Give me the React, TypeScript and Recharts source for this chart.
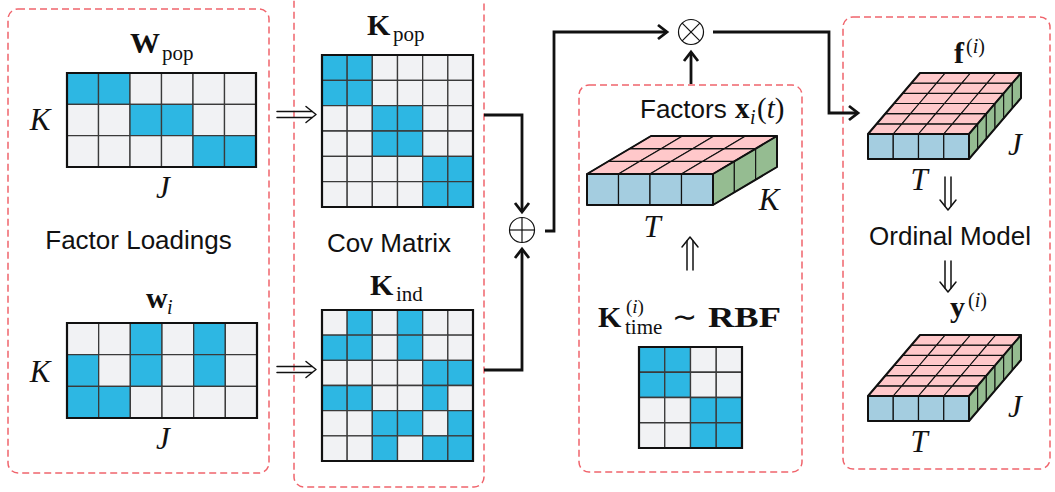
import React from "react";
import { ComposedChart, XAxis, YAxis, Scatter, ReferenceArea } from "recharts";

const CHART_W = 1055;
const CHART_H = 492;

// ---------------- data ----------------
const wPopMatrix = ["110000", "001100", "000011"];
const wIndMatrix = ["001010", "101010", "110000"];
const kPopMatrix = ["110000", "110000", "001100", "001100", "000011", "000011"];
const kIndMatrix = ["010100", "110100", "000011", "110010", "001101", "001011"];
const kTimeMatrix = ["1100", "1100", "0011", "0011"];

const factorsSlab = { t: 4, depth: 3 }; // T columns x K rows
const fSlab = { t: 4, depth: 6 }; // T columns x J rows
const ySlab = { t: 4, depth: 6 };

const panelTitles = ["Factor Loadings", "Cov Matrix", "Ordinal Model", "Factors"];
const dimLabels = ["K", "J", "T"];

// ---------------- styles ----------------
const SANS = "'Liberation Sans', Arial, Helvetica, sans-serif";
const SERIF = "'Liberation Serif', 'Times New Roman', serif";
const BLUE = "#2db7e3";
const GRAY = "#f1f2f4";
const FRONT = "#a4cde0";
const TOP = "#ffc8ca";
const SIDE = "#95bc91";
const DASH = "#f0646c";
const INK = "#111111";

// ---------------- layout ----------------
const BOXES = [
  { x0: 8, y0: 9, x1: 269, y1: 473 },
  { x0: 294, y0: -30, x1: 484, y1: 487 },
  { x0: 579, y0: 85, x1: 802, y1: 472 },
  { x0: 843, y0: 17, x1: 1050, y1: 469 },
];

const MATS = [
  { rows: wPopMatrix, x0: 67, y0: 73, x1: 256, y1: 167 },
  { rows: wIndMatrix, x0: 67, y0: 323, x1: 257, y1: 418 },
  { rows: kPopMatrix, x0: 322, y0: 55, x1: 473, y1: 207 },
  { rows: kIndMatrix, x0: 322, y0: 310, x1: 473, y1: 461 },
  { rows: kTimeMatrix, x0: 639, y0: 347, x1: 742, y1: 448 },
];

const SLABS = [
  { spec: factorsSlab, x0: 587, y0: 174, x1: 713, y1: 205, dx: 64, dy: -38 },
  { spec: fSlab, x0: 868, y0: 134, x1: 969, y1: 159, dx: 52, dy: -61 },
  { spec: ySlab, x0: 868, y0: 396, x1: 969, y1: 421, dx: 52, dy: -61 },
];

const WIRES: number[][][] = [
  [[484, 115], [522, 115], [522, 212]],
  [[484, 370], [522, 370], [522, 249]],
  [[545, 231], [554, 231], [554, 32], [667, 32]],
  [[691, 84], [691, 52]],
  [[713, 32], [829, 32], [829, 113], [858, 113]],
];

const DOUBLE_ARROWS = [
  { tip: [316, 114.5], dir: [1, 0], len: 39 },
  { tip: [316, 369.5], dir: [1, 0], len: 39 },
  { tip: [690, 237], dir: [0, -1], len: 33 },
  { tip: [948, 210], dir: [0, 1], len: 33 },
  { tip: [948, 292], dir: [0, 1], len: 31 },
];

const OPS = [
  { x: 522, y: 230, kind: "plus" },
  { x: 691, y: 32, kind: "times" },
];

type TextItem = {
  x: number;
  y: number;
  text?: string;
  spans?: { t: string; italic?: boolean }[];
  font?: "sans" | "serif";
  size: number;
  bold?: boolean;
  italic?: boolean;
  anchor?: "start" | "middle" | "end";
  len?: number;
};

const TEXTS: TextItem[] = [
  { x: 138.5, y: 249, text: panelTitles[0], font: "sans", size: 26, anchor: "middle" },
  { x: 389, y: 252, text: panelTitles[1], font: "sans", size: 26, anchor: "middle" },
  { x: 950, y: 245, text: panelTitles[2], font: "sans", size: 26, anchor: "middle" },
  { x: 640, y: 118, text: panelTitles[3], font: "sans", size: 26 },
  // W_pop
  { x: 130, y: 53, text: "W", bold: true, size: 30 },
  { x: 162, y: 60, text: "pop", size: 21 },
  // w_i
  { x: 146, y: 308, text: "w", bold: true, size: 30 },
  { x: 167, y: 314, text: "i", italic: true, size: 20 },
  // K_pop
  { x: 367, y: 35, text: "K", bold: true, size: 30 },
  { x: 393, y: 41, text: "pop", size: 21 },
  // K_ind
  { x: 370, y: 295, text: "K", bold: true, size: 30 },
  { x: 396, y: 301, text: "ind", size: 21 },
  // x_i(t)
  { x: 735, y: 118, text: "x", bold: true, size: 29 },
  { x: 750, y: 124, text: "i", italic: true, size: 20 },
  { x: 757, y: 118, spans: [{ t: "(" }, { t: "t", italic: true }, { t: ")" }], size: 29 },
  // K_time^(i) ~ RBF
  { x: 598, y: 327, text: "K", bold: true, size: 30 },
  { x: 625, y: 334, text: "time", size: 21 },
  { x: 626, y: 313, spans: [{ t: "(" }, { t: "i", italic: true }, { t: ")" }], size: 19 },
  { x: 672, y: 327, text: "\u223C", size: 30 },
  { x: 708, y: 327, text: "RBF", bold: true, size: 30, len: 73 },
  // f^(i)
  { x: 954, y: 63, text: "f", bold: true, size: 30 },
  { x: 966, y: 53, spans: [{ t: "(" }, { t: "i", italic: true }, { t: ")" }], size: 20 },
  // y^(i)
  { x: 950, y: 317, text: "y", bold: true, size: 30 },
  { x: 968, y: 307, spans: [{ t: "(" }, { t: "i", italic: true }, { t: ")" }], size: 20 },
  // dimension labels
  { x: 40, y: 130, text: dimLabels[0], italic: true, size: 31, anchor: "middle" },
  { x: 163, y: 198, text: dimLabels[1], italic: true, size: 31, anchor: "middle" },
  { x: 40, y: 382, text: dimLabels[0], italic: true, size: 31, anchor: "middle" },
  { x: 163, y: 449, text: dimLabels[1], italic: true, size: 31, anchor: "middle" },
  { x: 652, y: 237, text: dimLabels[2], italic: true, size: 31, anchor: "middle" },
  { x: 769, y: 210, text: dimLabels[0], italic: true, size: 31, anchor: "middle" },
  { x: 1015, y: 155, text: dimLabels[1], italic: true, size: 31, anchor: "middle" },
  { x: 919, y: 190, text: dimLabels[2], italic: true, size: 31, anchor: "middle" },
  { x: 1015, y: 417, text: dimLabels[1], italic: true, size: 31, anchor: "middle" },
  { x: 919, y: 452, text: dimLabels[2], italic: true, size: 31, anchor: "middle" },
];

// ---------------- geometry helpers ----------------
type P = { x: number; y: number };

function matrixCells(m: { rows: string[]; x0: number; y0: number; x1: number; y1: number }) {
  const nr = m.rows.length;
  const nc = m.rows[0].length;
  const cw = (m.x1 - m.x0) / nc;
  const ch = (m.y1 - m.y0) / nr;
  const out: { x1: number; x2: number; y1: number; y2: number; on: boolean }[] = [];
  m.rows.forEach((r, i) =>
    r.split("").forEach((v, j) =>
      out.push({
        x1: m.x0 + j * cw,
        x2: m.x0 + (j + 1) * cw,
        y1: m.y0 + i * ch,
        y2: m.y0 + (i + 1) * ch,
        on: v === "1",
      })
    )
  );
  return out;
}

function slabFrontCells(s: (typeof SLABS)[number]) {
  const cw = (s.x1 - s.x0) / s.spec.t;
  return Array.from({ length: s.spec.t }, (_, j) => ({
    x1: s.x0 + j * cw,
    x2: s.x0 + (j + 1) * cw,
    y1: s.y0,
    y2: s.y1,
  }));
}

function slabTopQuads(s: (typeof SLABS)[number]): P[] {
  const cw = (s.x1 - s.x0) / s.spec.t;
  const sx = s.dx / s.spec.depth;
  const sy = s.dy / s.spec.depth;
  const out: P[] = [];
  for (let k = 0; k < s.spec.depth; k++) {
    for (let j = 0; j < s.spec.t; j++) {
      const ax = s.x0 + j * cw + k * sx;
      const ay = s.y0 + k * sy;
      out.push(
        { x: ax, y: ay },
        { x: ax + cw, y: ay },
        { x: ax + cw + sx, y: ay + sy },
        { x: ax + sx, y: ay + sy }
      );
    }
  }
  return out;
}

function slabSideQuads(s: (typeof SLABS)[number]): P[] {
  const sx = s.dx / s.spec.depth;
  const sy = s.dy / s.spec.depth;
  const h = s.y1 - s.y0;
  const out: P[] = [];
  for (let k = 0; k < s.spec.depth; k++) {
    const ax = s.x1 + k * sx;
    const ay = s.y0 + k * sy;
    out.push(
      { x: ax, y: ay },
      { x: ax + sx, y: ay + sy },
      { x: ax + sx, y: ay + sy + h },
      { x: ax, y: ay + h }
    );
  }
  return out;
}

function slabOutline(s: (typeof SLABS)[number]): P[] {
  return [
    { x: s.x0, y: s.y1 },
    { x: s.x0, y: s.y0 },
    { x: s.x0 + s.dx, y: s.y0 + s.dy },
    { x: s.x1 + s.dx, y: s.y0 + s.dy },
    { x: s.x1 + s.dx, y: s.y1 + s.dy },
    { x: s.x1, y: s.y1 },
    { x: s.x0, y: s.y1 },
    { x: s.x0, y: s.y0 },
    { x: s.x1, y: s.y0 },
    { x: s.x1 + s.dx, y: s.y0 + s.dy },
    { x: s.x1, y: s.y0 },
    { x: s.x1, y: s.y1 },
  ];
}

function arrowHead(w: number[][]): P[] {
  const a = w[w.length - 2];
  const b = w[w.length - 1];
  const len = Math.hypot(b[0] - a[0], b[1] - a[1]);
  const ux = (b[0] - a[0]) / len;
  const uy = (b[1] - a[1]) / len;
  const px = -uy;
  const py = ux;
  const L = 9;
  const Wd = 7;
  return [
    { x: b[0] - L * ux + Wd * px, y: b[1] - L * uy + Wd * py },
    { x: b[0], y: b[1] },
    { x: b[0] - L * ux - Wd * px, y: b[1] - L * uy - Wd * py },
  ];
}

function doubleArrowParts(a: (typeof DOUBLE_ARROWS)[number]): P[][] {
  const [tx, ty] = a.tip;
  const [ux, uy] = a.dir;
  const px = -uy;
  const py = ux;
  const bx = tx - a.len * ux;
  const by = ty - a.len * uy;
  const g = 3;
  const stop = 4;
  const L = 10;
  const Wd = 8;
  return [
    [
      { x: bx + g * px, y: by + g * py },
      { x: tx - stop * ux + g * px, y: ty - stop * uy + g * py },
    ],
    [
      { x: bx - g * px, y: by - g * py },
      { x: tx - stop * ux - g * px, y: ty - stop * uy - g * py },
    ],
    [
      { x: tx - L * ux + Wd * px, y: ty - L * uy + Wd * py },
      { x: tx, y: ty },
      { x: tx - L * ux - Wd * px, y: ty - L * uy - Wd * py },
    ],
  ];
}

// ---------------- renderers ----------------
const Hidden = () => <g />;

const quadRenderer = (fill: string, stroke: string, sw: number) => (lp: any) => {
  const pts: P[] = (lp && lp.points) || [];
  const polys: React.ReactElement[] = [];
  for (let i = 0; i + 3 < pts.length; i += 4) {
    polys.push(
      <polygon
        key={i}
        points={pts
          .slice(i, i + 4)
          .map((p) => `${p.x},${p.y}`)
          .join(" ")}
        fill={fill}
        stroke={stroke}
        strokeWidth={sw}
        strokeLinejoin="round"
      />
    );
  }
  return <g>{polys}</g>;
};

const boxRenderer = (lp: any) => {
  const pts: P[] = (lp && lp.points) || [];
  const rects: React.ReactElement[] = [];
  for (let i = 0; i + 1 < pts.length; i += 2) {
    const a = pts[i];
    const b = pts[i + 1];
    rects.push(
      <rect
        key={i}
        x={Math.min(a.x, b.x)}
        y={Math.min(a.y, b.y)}
        width={Math.abs(b.x - a.x)}
        height={Math.abs(b.y - a.y)}
        rx={10}
        ry={10}
        fill="none"
        stroke={DASH}
        strokeWidth={1.5}
        strokeDasharray="7 4"
      />
    );
  }
  return <g>{rects}</g>;
};

const polyRenderer = (stroke: string, sw: number) => (lp: any) => {
  const pts: P[] = (lp && lp.points) || [];
  return (
    <polyline
      points={pts.map((p) => `${p.x},${p.y}`).join(" ")}
      fill="none"
      stroke={stroke}
      strokeWidth={sw}
      strokeLinejoin="round"
      strokeLinecap="round"
    />
  );
};

const TextShape = (props: any) => {
  const d: TextItem = props.payload ?? props;
  const { cx, cy } = props;
  if (cx == null || cy == null) return <g />;
  return (
    <text
      x={cx}
      y={cy}
      fontSize={d.size}
      fontFamily={d.font === "sans" ? SANS : SERIF}
      fontWeight={d.bold ? "bold" : "normal"}
      fontStyle={d.italic ? "italic" : "normal"}
      textAnchor={d.anchor || "start"}
      fill={INK}
      textLength={d.len}
      lengthAdjust={d.len ? "spacingAndGlyphs" : undefined}
    >
      {d.spans
        ? d.spans.map((s, i) => (
            <tspan key={i} fontStyle={s.italic ? "italic" : "normal"}>
              {s.t}
            </tspan>
          ))
        : d.text}
    </text>
  );
};

const OpShape = (props: any) => {
  const d = props.payload ?? props;
  const { cx, cy } = props;
  if (cx == null || cy == null) return <g />;
  const r = 12.5;
  const k = r / Math.SQRT2;
  return (
    <g stroke={INK} strokeWidth={1.2} fill="#fff">
      <circle cx={cx} cy={cy} r={r} />
      {d.kind === "plus" ? (
        <>
          <line x1={cx - r} y1={cy} x2={cx + r} y2={cy} />
          <line x1={cx} y1={cy - r} x2={cx} y2={cy + r} />
        </>
      ) : (
        <>
          <line x1={cx - k} y1={cy - k} x2={cx + k} y2={cy + k} />
          <line x1={cx - k} y1={cy + k} x2={cx + k} y2={cy - k} />
        </>
      )}
    </g>
  );
};

export default function App() {
  const boxPts: P[] = BOXES.flatMap((b) => [
    { x: b.x0, y: b.y0 },
    { x: b.x1, y: b.y1 },
  ]);

  return (
    <div style={{ width: CHART_W, height: CHART_H, background: "#fff" }}>
      <style>{"html,body{margin:0;padding:0;background:#fff}"}</style>
      <ComposedChart width={CHART_W} height={CHART_H} margin={{ top: 0, right: 0, bottom: 0, left: 0 }}>
        <XAxis type="number" dataKey="x" domain={[0, CHART_W]} hide allowDataOverflow />
        <YAxis type="number" dataKey="y" domain={[0, CHART_H]} reversed hide allowDataOverflow />

        {/* dashed panels */}
        <Scatter key="boxes" data={boxPts} isAnimationActive={false} shape={Hidden} line={boxRenderer} />

        {/* matrices */}
        {MATS.map((m, mi) =>
          matrixCells(m).map((c, ci) => (
            <ReferenceArea
              key={`m${mi}-${ci}`}
              x1={c.x1}
              x2={c.x2}
              y1={c.y1}
              y2={c.y2}
              fill={c.on ? BLUE : GRAY}
              fillOpacity={1}
              stroke="#3a3a3a"
              strokeWidth={1.3}
              ifOverflow="visible"
            />
          ))
        )}
        {MATS.map((m, mi) => (
          <ReferenceArea
            key={`mb${mi}`}
            x1={m.x0}
            x2={m.x1}
            y1={m.y0}
            y2={m.y1}
            fill="none"
            stroke={INK}
            strokeWidth={2.2}
            ifOverflow="visible"
          />
        ))}

        {/* slabs */}
        {SLABS.map((s, si) =>
          slabFrontCells(s).map((c, ci) => (
            <ReferenceArea
              key={`sf${si}-${ci}`}
              x1={c.x1}
              x2={c.x2}
              y1={c.y1}
              y2={c.y2}
              fill={FRONT}
              fillOpacity={1}
              stroke={INK}
              strokeWidth={1.2}
              ifOverflow="visible"
            />
          ))
        )}
        {SLABS.map((s, si) => (
          <Scatter
            key={`st${si}`}
            data={slabTopQuads(s)}
            isAnimationActive={false}
            shape={Hidden}
            line={quadRenderer(TOP, INK, 1.1)}
          />
        ))}
        {SLABS.map((s, si) => (
          <Scatter
            key={`ss${si}`}
            data={slabSideQuads(s)}
            isAnimationActive={false}
            shape={Hidden}
            line={quadRenderer(SIDE, INK, 1.1)}
          />
        ))}
        {SLABS.map((s, si) => (
          <Scatter
            key={`so${si}`}
            data={slabOutline(s)}
            isAnimationActive={false}
            shape={Hidden}
            line={polyRenderer(INK, 2)}
          />
        ))}

        {/* heavy wires with arrow heads */}
        {WIRES.map((w, wi) => (
          <Scatter
            key={`w${wi}`}
            data={w.map(([x, y]) => ({ x, y }))}
            isAnimationActive={false}
            shape={Hidden}
            line={{ stroke: INK, strokeWidth: 2.8 }}
          />
        ))}
        {WIRES.map((w, wi) => (
          <Scatter
            key={`wh${wi}`}
            data={arrowHead(w)}
            isAnimationActive={false}
            shape={Hidden}
            line={{ stroke: INK, strokeWidth: 2.8 }}
          />
        ))}

        {/* double arrows */}
        {DOUBLE_ARROWS.map((a, ai) =>
          doubleArrowParts(a).map((part, pi) => (
            <Scatter
              key={`da${ai}-${pi}`}
              data={part}
              isAnimationActive={false}
              shape={Hidden}
              line={polyRenderer(INK, 1.5)}
            />
          ))
        )}

        {/* operators */}
        <Scatter key="ops" data={OPS} isAnimationActive={false} shape={OpShape} />

        {/* texts */}
        <Scatter key="texts" data={TEXTS} isAnimationActive={false} shape={TextShape} />
      </ComposedChart>
    </div>
  );
}
